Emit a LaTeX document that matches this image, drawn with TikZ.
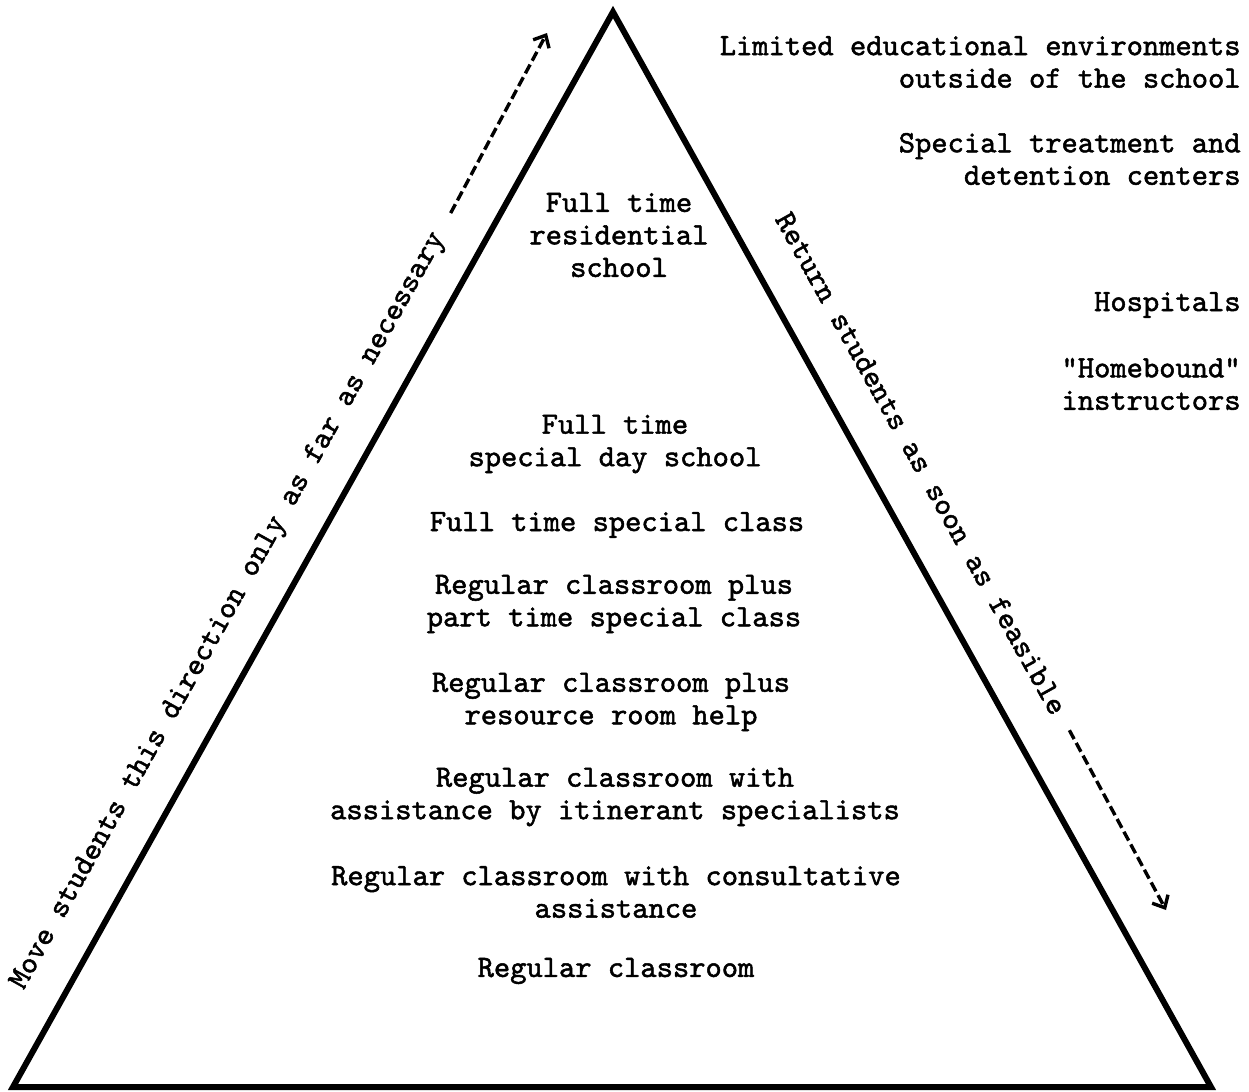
\documentclass[tikz,border=0pt]{standalone}
\usepackage{fontspec}
\usetikzlibrary{arrows.meta, calc}
\newfontfamily\typewr{lmmono10-regular.otf}[FakeBold=1.6]
\newcommand{\tymono}{\typewr\fontsize{15.5}{16.25}\selectfont}
\tikzset{
  tier/.style={font=\tymono, align=center, inner sep=0pt},
  setting/.style={font=\tymono, align=right, anchor=east, inner sep=0pt},
  pathlbl/.style={font=\tymono, anchor=base, inner sep=0pt},
  side/.style={line width=3pt, line join=miter},
  dasharrow/.style={line width=1.7pt, dash pattern=on 5pt off 2.2pt,
    -{Straight Barb[length=5pt,width=9pt]}}
}

\begin{document}
\begin{tikzpicture}[x=0.5pt, y=-0.5pt]
\useasboundingbox (0,0) rectangle (1249,1092);
% corners of the triangle
\coordinate (top) at (613,12);
\coordinate (bl) at (13,1087);
\coordinate (br) at (1211,1087);
\draw[side] (bl) -- (top) -- (br) -- cycle;
% levels of service, most restrictive at the top
\node[tier] (resid) at (619,235) {Full time\\residential\\school};
\node[tier] (dayschool) at (615,444) {Full time\\special day school};
\node[tier] (specclass) at (617,525) {Full time special class};
\node[tier] (parttime) at (614,604) {Regular classroom plus\\part time special class};
\node[tier] (resource) at (611,702) {Regular classroom plus\\resource room help};
\node[tier] (itinerant) at (615,797) {Regular classroom with\\assistance by itinerant specialists};
\node[tier] (consult) at (616,892) {Regular classroom with consultative\\assistance};
\node[tier] (regular) at (616,971) {Regular classroom};
% settings outside of the school
\node[setting] (limited) at (1241,62) {Limited educational environments\\outside of the school};
\node[setting] (treatment) at (1241,159) {Special treatment and\\detention centers};
\node[setting] (hospital) at (1241,305) {Hospitals};
\node[setting] (homebound) at (1241,384) {"Homebound"\\instructors};
% direction labels along the two sides
\node[pathlbl, rotate=60.8] (movetxt) at (234,614) {Move students this direction only as far as necessary};
\coordinate (movetip) at (547,33);
\draw[dasharrow, shorten <=12pt] (movetxt.east) -- (movetip);
\node[pathlbl, rotate=-60.9] (returntxt) at (913,468) {Return students as soon as feasible};
\coordinate (returntip) at (1166,910);
\draw[dasharrow, shorten <=10pt] (returntxt.east) -- (returntip);
\end{tikzpicture}
\end{document}
